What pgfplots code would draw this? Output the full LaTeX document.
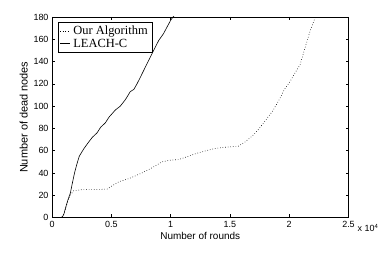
\documentclass[border=0pt]{standalone}
\usepackage{pgfplots}
\pgfplotsset{compat=1.18}
\usepackage{fontspec}
\setmainfont{Liberation Sans}
\newfontfamily\timesf{Liberation Serif}
\begin{document}
\begin{tikzpicture}
\path[use as bounding box] (-52bp,-38.5bp) rectangle (339bp,217.5bp);
\begin{axis}[
  name=ax,
  scale only axis,
  width=296.5bp, height=200.5bp,
  at={(0,0)}, anchor=south west,
  xmin=0, xmax=25000, ymin=0, ymax=180,
  xtick={0,5000,10000,15000,20000,25000},
  xticklabels={0,0.5,1,1.5,2,2.5},
  ytick={0,20,...,180},
  scaled x ticks=false,
  /pgf/number format/assume math mode=true,
  tick label style={font=\fontsize{9}{10}\selectfont},
  xlabel style={font=\fontsize{10}{11}\selectfont, yshift=2bp},
  ylabel style={font=\fontsize{11}{12}\selectfont, yshift=-1bp},
  xlabel={Number of rounds},
  ylabel={Number of dead nodes},
  major tick length=3bp,
  axis line style={line width=0.6pt},
  tick style={line width=0.5pt, black},
  legend style={at={(rel axis cs:0.02,0.975)}, anchor=north west,
    font=\timesf\fontsize{12.5}{14}\selectfont, draw=black, line width=0.6pt,
    inner sep=1.5pt, row sep=-1pt,
    nodes={inner xsep=3bp}},
  legend cell align=left,
  legend image code/.code={\draw[#1] (0bp,0bp) -- (10bp,0bp);},
]
\addplot[black, dotted, line width=0.6pt] coordinates {
(0,0)(800,0)(1000,3)(1200,10)(1400,17)(1600,21)(1830,24)(2500,25)(3500,25)(4640,25.5)
(5000,28)(5620,32)(6500,35)(7590,40)(8500,45)(9275,50)(10000,51.5)(10680,52)(11500,55)
(12200,57.6)(13000,60)(13740,62)(14500,63)(15700,64)(16300,68)(16970,74)(17400,79)
(17820,84.5)(18660,96.5)(19220,107)(19600,115)(20070,122)(20500,130)(20910,137)
(21330,152)(21750,167)(22170,179)(22300,182)
};
\addlegendentry{Our Algorithm}
\addplot[black, line width=0.6pt] coordinates {
(0,0)(800,0)(900,1)(1000,3)(1180,10)(1350,16)(1550,22)(1700,30)(1900,40)(2100,48)
(2300,55)(2470,58)(2700,62)(3040,67)(3400,72)(3800,76)(4100,81)(4500,85)(4800,90)
(5340,96.5)(5760,100)(6200,106)(6600,113)(6900,115)(7170,120)(7500,127)(7870,135)
(8200,142)(8570,150)(9000,159)(9400,165)(9700,171)(10000,177)(10200,180)(10400,182)
};
\addlegendentry{LEACH-C}
\end{axis}
\node[anchor=west, font=\fontsize{9}{10}\selectfont, inner sep=0pt] at ([xshift=9bp,yshift=-10.5bp]ax.south east) {x 10\textsuperscript{4}};
\end{tikzpicture}
\end{document}
